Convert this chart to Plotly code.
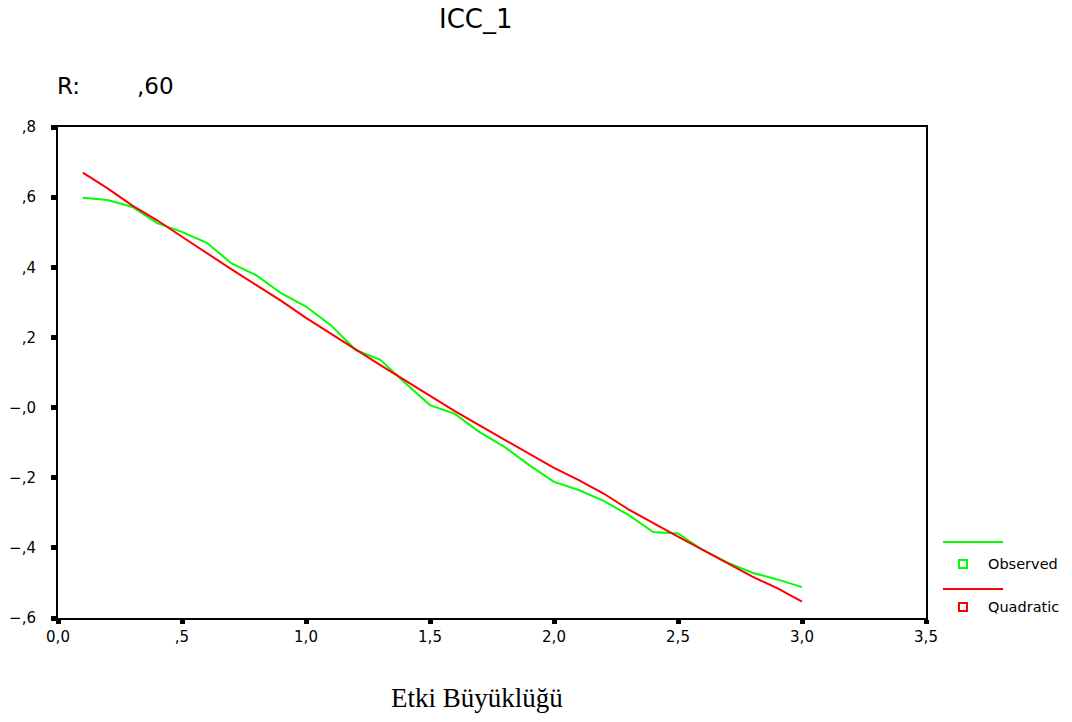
import plotly.graph_objects as go

# Data
x_vals = [0.1, 0.2, 0.3, 0.4, 0.5, 0.6, 0.7, 0.8, 0.9, 1.0,
          1.1, 1.2, 1.3, 1.4, 1.5, 1.6, 1.7, 1.8, 1.9, 2.0,
          2.1, 2.2, 2.3, 2.4, 2.5, 2.6, 2.7, 2.8, 2.9, 3.0]
observed = [0.598, 0.592, 0.572, 0.526, 0.501, 0.470, 0.411, 0.377, 0.326, 0.288,
            0.235, 0.164, 0.136, 0.070, 0.007, -0.018, -0.070, -0.112, -0.164, -0.212,
            -0.235, -0.266, -0.306, -0.355, -0.359, -0.406, -0.442, -0.471, -0.490, -0.512]
quadratic = [0.670, 0.625, 0.576, 0.534, 0.487, 0.440, 0.394, 0.349, 0.304, 0.256,
             0.210, 0.166, 0.121, 0.077, 0.033, -0.010, -0.051, -0.092, -0.132, -0.172,
             -0.207, -0.245, -0.290, -0.330, -0.368, -0.406, -0.444, -0.482, -0.515, -0.553]

x_ticks = [0, 0.5, 1.0, 1.5, 2.0, 2.5, 3.0, 3.5]
x_tick_text = ["0,0", ",5", "1,0", "1,5", "2,0", "2,5", "3,0", "3,5"]
y_ticks = [0.8, 0.6, 0.4, 0.2, 0.0, -0.2, -0.4, -0.6]
y_tick_text = [",8", ",6", ",4", ",2", "\u2212,0", "\u2212,2", "\u2212,4", "\u2212,6"]

title_text = "ICC_1"
r_label = "R:"
r_value = ",60"
x_title = "Etki Büyüklüğü"
series_names = ["Observed", "Quadratic"]
series_colors = ["#00ff00", "#ff0000"]

W, H = 1072, 722
L, R, T, B = 58, 926, 127, 618   # plot area in window pixels


def px(xp):
    return (xp - L) / (R - L)


def py(yp):
    return (B - yp) / (B - T)


fig = go.Figure()
fig.add_trace(go.Scatter(x=x_vals, y=observed, mode="lines", name=series_names[0],
                         line=dict(color=series_colors[0], width=2), showlegend=False))
fig.add_trace(go.Scatter(x=x_vals, y=quadratic, mode="lines", name=series_names[1],
                         line=dict(color=series_colors[1], width=2), showlegend=False))

sans = "DejaVu Sans"

fig.update_layout(
    width=W, height=H,
    margin=dict(l=L, r=W - R, t=T, b=H - B, pad=0),
    paper_bgcolor="white", plot_bgcolor="white",
    showlegend=False,
    font=dict(family=sans, color="black", size=15),
    xaxis=dict(range=[0, 3.5], tickvals=x_ticks, ticktext=x_tick_text,
               showgrid=False, zeroline=False, showline=True, mirror=True,
               automargin=False,
               linecolor="black", linewidth=2, ticks="outside", ticklen=4,
               tickwidth=5, tickcolor="black", tickfont=dict(size=15, family=sans)),
    yaxis=dict(range=[-0.6, 0.8], tickvals=y_ticks, ticktext=y_tick_text,
               showgrid=False, zeroline=False, showline=True, mirror=True,
               automargin=False,
               linecolor="black", linewidth=2, ticks="outside", ticklen=5,
               tickwidth=5, tickcolor="black", ticklabelstandoff=12,
               tickfont=dict(size=15, family=sans)),
)

ann = []
ann.append(dict(text=title_text, x=px(476), y=py(19), xref="paper", yref="paper",
                showarrow=False, xanchor="center", yanchor="middle",
                font=dict(size=26, family=sans)))
ann.append(dict(text=r_label, x=px(55), y=py(86), xref="paper", yref="paper",
                showarrow=False, xanchor="left", yanchor="middle",
                font=dict(size=23, family=sans)))
ann.append(dict(text=r_value, x=px(135), y=py(86), xref="paper", yref="paper",
                showarrow=False, xanchor="left", yanchor="middle",
                font=dict(size=23, family=sans)))
ann.append(dict(text=x_title, x=px(477), y=py(698), xref="paper", yref="paper",
                showarrow=False, xanchor="center", yanchor="middle",
                font=dict(size=27, family="Liberation Serif")))

shapes = []
legend_rows = [(542, 564), (589, 607)]
for (ly, my), name, col in zip(legend_rows, series_names, series_colors):
    shapes.append(dict(type="line", xref="paper", yref="paper",
                       x0=px(943), x1=px(1003), y0=py(ly), y1=py(ly),
                       line=dict(color=col, width=2)))
    shapes.append(dict(type="rect", xref="paper", yref="paper",
                       x0=px(959), x1=px(967), y0=py(my + 4), y1=py(my - 4),
                       line=dict(color=col, width=2), fillcolor="rgba(0,0,0,0)"))
    ann.append(dict(text=name, x=px(986), y=py(my), xref="paper", yref="paper",
                    showarrow=False, xanchor="left", yanchor="middle",
                    font=dict(size=14.5, family=sans)))

fig.update_layout(annotations=ann, shapes=shapes)
fig.write_html("out.html", config={"displayModeBar": False},
               post_script="document.body.style.margin='0';document.body.style.overflow='hidden';")
